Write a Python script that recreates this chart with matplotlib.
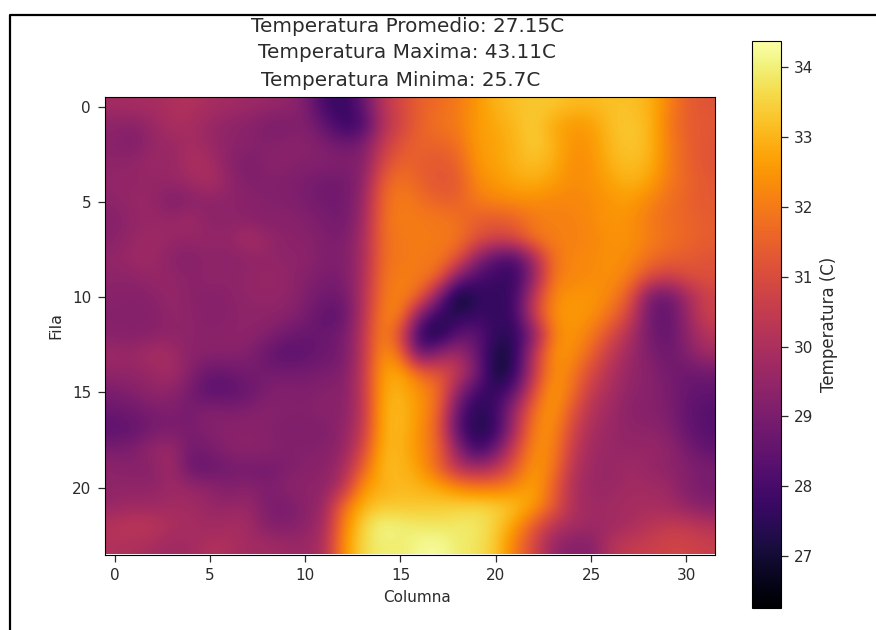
import matplotlib
matplotlib.use("Agg")
import matplotlib.pyplot as plt
from matplotlib.lines import Line2D
import numpy as np

title_lines = ["Temperatura Promedio: 27.15C", "Temperatura Maxima: 43.11C", "Temperatura Minima: 25.7C"]
x_ticks = [0, 5, 10, 15, 20, 25, 30]
y_ticks = [0, 5, 10, 15, 20]
cbar_ticks = [27, 28, 29, 30, 31, 32, 33, 34]
vmin, vmax = 26.26, 34.37

temps = [
[29.8,29.9,29.9,30.0,30.1,29.9,29.8,29.7,29.6,29.5,29.1,27.9,27.6,28.5,30.2,30.9,31.5,31.7,32.0,32.5,33.0,33.2,33.3,33.3,33.1,33.1,33.2,33.2,33.0,32.2,31.4,31.2],
[29.4,29.3,29.6,30.0,29.9,29.6,29.4,29.3,29.0,29.0,29.2,28.5,27.7,27.9,30.0,30.8,31.5,31.9,32.0,32.6,32.8,33.1,33.4,32.8,32.5,32.6,33.2,33.3,33.1,32.0,31.4,31.3],
[29.3,29.0,29.6,29.6,29.9,29.6,29.4,29.3,29.2,29.3,29.3,29.1,28.7,29.0,30.4,31.2,31.6,31.5,31.8,32.6,32.7,33.0,33.4,33.0,32.4,32.5,33.1,33.3,33.1,32.1,31.5,31.2],
[29.4,29.5,29.7,29.5,30.1,29.9,29.3,29.0,29.3,29.3,29.2,29.2,29.2,29.1,30.8,31.6,31.4,31.3,31.5,32.5,32.7,33.0,33.2,32.9,32.3,32.4,33.0,33.2,33.0,32.1,31.5,31.2],
[29.5,29.5,29.5,29.6,29.7,30.0,29.5,29.1,29.2,29.1,29.0,28.8,28.8,29.3,31.4,31.9,31.5,31.2,31.3,32.3,32.5,32.8,32.9,32.6,32.3,32.4,32.7,33.0,32.7,32.0,31.6,31.3],
[29.4,29.6,29.6,29.0,29.3,29.4,29.4,29.3,29.2,29.2,29.0,28.8,28.8,29.5,31.6,32.1,31.8,31.5,31.5,32.0,32.2,32.3,32.3,32.2,32.2,32.3,32.5,32.6,32.2,31.8,31.5,31.3],
[29.2,29.5,29.6,29.6,29.8,29.3,29.4,29.3,29.2,29.3,29.2,29.0,28.8,29.6,31.7,32.1,32.0,32.0,31.8,31.4,31.3,31.5,32.0,32.1,32.1,32.3,32.5,32.4,32.0,31.7,31.6,31.4],
[29.3,29.6,29.7,29.6,29.5,29.6,29.5,30.0,29.6,29.3,29.3,29.1,29.0,29.8,31.7,32.0,32.0,32.0,31.9,31.2,30.8,31.0,31.9,32.1,32.1,32.2,32.4,32.4,32.1,31.8,31.6,31.4],
[29.5,29.7,29.7,29.3,29.2,29.4,29.3,29.4,29.5,29.4,29.4,29.1,29.1,29.8,31.7,32.0,32.0,32.0,31.3,29.3,28.2,28.0,29.8,31.9,32.2,32.3,32.4,32.3,31.8,31.5,31.4,31.2],
[29.4,29.4,29.6,29.5,29.3,29.5,29.4,29.5,29.6,29.5,29.2,29.0,29.0,29.9,31.8,32.1,32.0,31.6,29.0,28.0,27.8,27.6,29.5,32.0,32.2,32.3,32.4,32.0,31.0,30.6,31.0,31.1],
[29.3,29.2,29.3,29.6,29.3,29.2,29.3,29.5,29.5,29.5,29.1,28.8,28.8,30.0,31.9,32.2,31.6,29.0,26.5,27.6,27.6,27.8,30.5,32.3,32.5,32.5,32.2,31.3,28.9,28.6,29.8,30.7],
[29.2,29.2,29.2,29.5,29.4,29.2,29.3,29.4,29.4,29.3,29.0,28.4,28.5,30.1,32.1,32.2,28.9,27.5,27.4,27.8,27.6,27.8,30.7,32.4,32.6,32.4,31.8,30.7,28.8,28.4,29.6,30.7],
[29.3,29.2,29.3,29.4,29.4,29.3,29.4,29.4,29.2,28.8,28.6,28.7,28.9,30.2,32.3,31.0,27.4,27.0,28.5,28.5,27.5,27.5,29.2,32.2,32.5,32.0,31.0,30.0,28.9,28.5,29.4,30.2],
[29.7,29.6,30.0,29.8,29.3,29.3,29.3,29.2,28.6,28.3,28.5,28.7,28.9,30.2,32.5,31.8,28.4,29.5,29.9,28.6,27.0,27.4,30.4,32.5,32.4,31.5,30.4,29.7,29.1,28.7,29.2,29.8],
[29.5,29.5,29.6,29.9,29.2,28.6,28.7,28.9,28.9,28.9,28.9,29.0,29.1,30.3,32.7,32.8,31.7,31.2,30.5,29.0,26.8,27.6,30.5,32.5,32.0,30.9,30.1,29.5,29.3,28.9,28.7,28.8],
[29.0,29.2,29.5,29.4,28.9,28.3,28.4,28.6,29.1,29.2,29.1,29.3,29.2,30.3,32.8,33.0,32.4,31.8,29.3,27.8,27.6,28.5,31.2,32.7,31.8,30.4,29.9,29.4,29.3,29.0,28.6,28.5],
[28.7,28.8,29.0,29.1,28.9,29.3,29.1,29.2,29.3,29.2,29.2,29.3,29.3,30.2,32.9,33.1,32.5,31.6,28.4,27.3,27.8,29.8,31.9,32.6,31.2,30.1,29.7,29.3,29.2,29.1,28.5,28.3],
[28.4,28.5,28.9,29.0,29.0,29.2,29.3,29.3,29.2,29.1,29.1,29.1,29.4,30.4,32.9,33.1,32.4,31.4,28.2,27.2,27.6,30.0,32.2,32.4,30.8,29.9,29.6,29.4,29.4,29.2,28.6,28.3],
[29.0,29.1,29.6,29.7,28.8,29.0,29.3,29.4,29.3,29.2,29.2,29.2,29.5,30.8,33.0,33.0,32.4,31.6,29.3,27.6,28.8,30.8,32.4,32.2,30.5,29.7,29.6,29.5,29.6,29.5,28.9,28.5],
[29.4,29.2,29.3,29.8,28.6,28.6,28.9,28.9,28.9,29.0,29.3,29.3,29.8,31.5,33.1,33.1,32.6,31.5,30.1,29.8,30.2,31.4,32.6,32.0,30.2,29.7,29.5,29.8,29.5,29.4,29.2,29.0],
[29.4,29.5,29.4,29.7,29.6,29.4,29.1,29.3,29.0,29.4,29.4,29.4,30.2,32.5,32.9,33.1,33.0,32.8,32.3,32.0,32.0,32.3,32.8,31.5,30.0,29.6,29.6,29.8,29.8,29.7,29.1,28.9],
[29.6,29.7,29.7,29.8,29.8,29.6,29.5,29.7,29.0,28.9,29.3,29.6,31.8,33.0,33.3,33.3,33.3,33.4,33.5,33.6,33.5,33.2,32.6,31.4,30.0,29.7,29.8,29.9,29.9,29.8,29.5,29.2],
[30.2,30.4,30.3,30.0,29.9,29.7,29.9,29.8,29.2,29.1,29.4,29.8,32.2,33.5,34.2,34.0,33.9,33.8,33.9,33.9,33.4,32.6,31.3,30.2,29.9,29.7,29.7,29.9,30.2,30.5,30.4,30.2],
[30.1,30.0,29.9,29.7,29.8,30.1,30.0,29.8,29.8,29.7,29.6,30.0,32.4,33.6,34.0,33.9,34.2,34.3,33.9,33.8,33.3,32.0,30.8,29.5,29.2,29.2,30.2,30.5,30.6,30.8,30.8,30.6],
]

W, H = 876.0, 630.0
text_color = "#2b2b2b"
fig = plt.figure(figsize=(W / 100, H / 100), dpi=100, facecolor="white")
ax = fig.add_axes([105 / W, 1 - 554.5 / H, 610 / W, 457.5 / H])
im = ax.imshow(np.array(temps), cmap="inferno", interpolation="bicubic", vmin=vmin, vmax=vmax, aspect="auto")
ax.set_xticks(x_ticks)
ax.set_yticks(y_ticks)
ax.tick_params(labelsize=11, length=5, width=0.9, pad=5, colors=text_color)
ax.set_xlabel("Columna", fontsize=11, color=text_color)
ax.xaxis.set_label_coords(0.511, -0.078)
ax.set_ylabel("Fila", fontsize=11.5, color=text_color)
ax.yaxis.set_label_coords(-0.068, 0.5)

cax = fig.add_axes([752 / W, 1 - 608 / H, 29 / W, 567 / H])
cb = fig.colorbar(im, cax=cax)
cb.set_ticks(cbar_ticks)
cb.ax.tick_params(labelsize=11, length=5, width=0.9, pad=4, colors=text_color)
cb.set_label("Temperatura (C)", fontsize=12, labelpad=5, color=text_color)

for s, x, y in zip(title_lines, [408, 407, 401], [27, 53, 80]):
    fig.text(x / W, 1 - y / H, s, ha="center", va="center", fontsize=14.4, color=text_color)

fig.add_artist(Line2D([9.5 / W, 9.5 / W, 1], [0, 1 - 15 / H, 1 - 15 / H], transform=fig.transFigure, color="black", lw=1.6))

fig.savefig("out.png", dpi=100)
